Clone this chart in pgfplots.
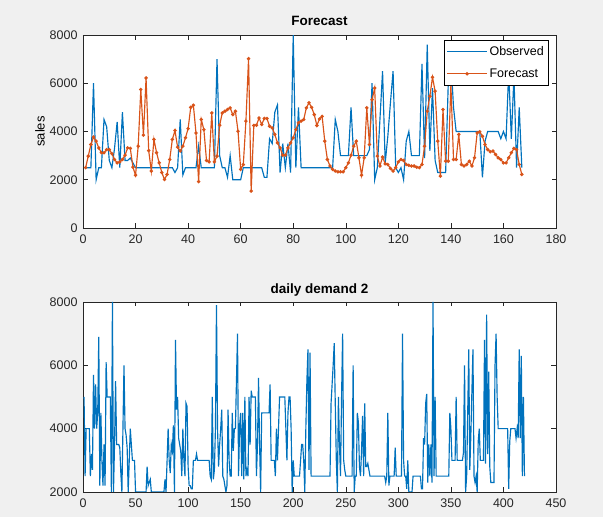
\documentclass[border=0pt]{standalone}
\usepackage{fontspec}
\setmainfont{Liberation Sans}
\usepackage{pgfplots}
\pgfplotsset{compat=1.18}
\usepackage{pgfplotstable}

\definecolor{mblue}{rgb}{0,0.447,0.741}
\definecolor{morange}{rgb}{0.85,0.325,0.098}
\definecolor{figbg}{RGB}{240,240,240}
\definecolor{axgray}{rgb}{0.15,0.15,0.15}

% test window: observed and forecast, t = 1..167
\pgfplotstableread{
t obs fc
1 2500 2500
2 2500 2980
3 2500 3460
4 6000 3770
5 2000 3600
6 2500 3320
7 2500 3120
8 4500 3120
9 4200 3250
10 2800 3250
11 2500 3080
12 3300 2840
13 4400 2700
14 2500 2740
15 4800 2840
16 2800 3020
17 2800 3320
18 2900 3300
19 2700 2520
20 2500 2190
21 2500 3390
22 2500 5740
23 2500 3850
24 2500 6220
25 2500 3210
26 2500 2360
27 2500 3670
28 2500 3120
29 2500 2700
30 2500 2300
31 2500 2010
32 2500 2220
33 2500 2840
34 2500 3670
35 2300 4040
36 2500 3350
37 4500 3190
38 2200 3390
39 2500 3740
40 2500 4120
41 2500 5000
42 2500 5090
43 2500 3940
44 3400 1920
45 2500 4500
46 2500 4080
47 2500 2800
48 2500 2740
49 2500 4770
50 2500 2740
51 7000 2980
52 3000 4260
53 2500 4770
54 2500 4840
55 2100 4910
56 3000 4980
57 2000 4700
58 2000 4840
59 2000 4010
60 2000 2430
61 2500 2630
62 2500 4430
63 2500 7020
64 2500 1530
65 2500 4250
66 2500 4260
67 2500 4560
68 2500 4290
69 2100 4540
70 2100 4540
71 3700 4220
72 3500 4150
73 4800 3880
74 5100 3530
75 2300 3320
76 3500 3020
77 2500 3020
78 3500 3320
79 2300 3530
80 8000 3740
81 2500 4080
82 5000 4360
83 2500 4430
84 2500 4500
85 2500 4980
86 2500 5190
87 2500 5000
88 2500 4700
89 2500 4250
90 2500 4520
91 2500 4630
92 2500 3600
93 2500 2840
94 2500 2570
95 2500 2430
96 4500 2360
97 4000 2330
98 3000 2330
99 3000 2330
100 3000 2500
101 3000 2700
102 5000 3020
103 3000 3390
104 3000 3600
105 3000 2910
106 3000 2190
107 3000 2910
108 3000 4980
109 3250 3460
110 6000 5320
111 2000 5800
112 2500 2980
113 4500 2570
114 6500 2940
115 2700 2660
116 3800 2630
117 5200 2470
118 6500 2360
119 2500 2500
120 2300 2740
121 2500 2840
122 2000 2800
123 3600 2630
124 4000 2600
125 3000 2570
126 3000 2570
127 3000 2520
128 3000 2500
129 6800 2630
130 2900 3390
131 7600 4840
132 3200 5460
133 5800 6250
134 2800 5670
135 2300 3600
136 2300 2150
137 2300 4910
138 2300 2770
139 6000 2770
140 7000 5940
141 5000 2840
142 4000 2840
143 4000 3880
144 4000 2630
145 4000 2570
146 4000 2630
147 4000 2770
148 4000 2570
149 4000 2910
150 4000 3940
151 4000 3990
152 2100 3800
153 3600 3460
154 4000 3250
155 4000 3160
156 4000 3190
157 4000 3050
158 4000 2910
159 3700 2840
160 4000 2700
161 3700 2700
162 6500 2910
163 3700 3120
164 6300 3300
165 2500 3250
166 5000 2630
167 2500 2220
}\fcast

% daily demand, days 1..254 (the rest is the observed column above, shifted by 253)
\pgfplotstableread{
t d
1 5000
2 2500
3 4000
4 4000
5 4000
6 4000
7 2500
8 3200
9 2700
10 5700
11 4000
12 5400
13 4000
14 4500
15 6900
16 2200
17 4500
18 3000
19 2200
20 3500
21 2200
22 6100
23 5000
24 5000
25 5000
26 5000
27 2000
28 8000
29 2000
30 3500
31 5500
32 3500
33 3500
34 3500
35 3400
36 2600
37 2000
38 4000
39 6000
40 4000
41 3800
42 3400
43 2000
44 3000
45 4000
46 3500
47 3000
48 3000
49 3000
50 2000
51 2000
52 2000
53 2000
54 2000
55 2000
56 2000
57 2000
58 2000
59 2000
60 2000
61 2800
62 2200
63 2300
64 2400
65 2000
66 2000
67 2000
68 2000
69 2000
70 2000
71 2000
72 2000
73 2000
74 2000
75 2000
76 2000
77 2000
78 2400
79 2000
80 3000
81 4000
82 3000
83 2600
84 3500
85 3300
86 4100
87 2000
88 6800
89 4600
90 5000
91 3700
92 3500
93 3300
94 2500
95 4000
96 3000
97 2500
98 4800
99 4700
100 2800
101 2200
102 2200
103 2100
104 2100
105 3000
106 3000
107 3000
108 3200
109 3000
110 3000
111 3000
112 3000
113 3000
114 3000
115 3000
116 3000
117 3000
118 3000
119 3000
120 3000
121 2500
122 2400
123 5000
124 2400
125 2700
126 4000
127 7900
128 4000
129 2800
130 3500
131 4000
132 4600
133 2500
134 2400
135 2200
136 2000
137 2200
138 4600
139 3000
140 2500
141 2500
142 4500
143 3300
144 4000
145 4000
146 5500
147 7000
148 2500
149 4100
150 4500
151 2500
152 4500
153 2400
154 5000
155 2500
156 2700
157 2500
158 5000
159 3500
160 5200
161 5000
162 5000
163 5000
164 5000
165 2500
166 3500
167 5600
168 3500
169 2000
170 4500
171 4500
172 4500
173 4500
174 4500
175 4500
176 4500
177 4500
178 5400
179 3000
180 3000
181 3000
182 3000
183 2500
184 4000
185 3000
186 4000
187 5000
188 5000
189 5000
190 5000
191 5000
192 5000
193 4000
194 3000
195 4500
196 5000
197 5000
198 4000
199 2000
200 3000
201 2500
202 2500
203 2500
204 2500
205 2500
206 2500
207 3000
208 3500
209 3500
210 3000
211 2000
212 4000
213 5500
214 6500
215 2700
216 6400
217 2500
218 2500
219 2500
220 2500
221 2500
222 2500
223 2500
224 2500
225 2500
226 2500
227 2500
228 2500
229 2500
230 2500
231 2500
232 2500
233 2500
234 2500
235 2500
236 4800
237 5400
238 6000
239 6700
240 4800
241 3000
242 2000
243 5000
244 3500
245 2500
246 5000
247 7000
248 3000
249 2700
250 2500
251 2500
252 2500
253 2500
254 2500
}\demand

\pgfplotsset{
  mat/.style={
    scale only axis, width=473pt, anchor=south west,
    axis background/.style={fill=white},
    axis line style={axgray, line width=0.5pt},
    tick style={axgray, line width=0.5pt},
    tick align=inside, major tick length=4.5pt,
    ticklabel style={font=\fontsize{12.5}{14}\selectfont, text=axgray},
    xticklabel style={yshift=-3pt},
    yticklabel style={xshift=-2pt},
    /pgf/number format/assume math mode=true,
    /pgf/number format/1000 sep={},
    scaled ticks=false,
    title style={font=\bfseries\fontsize{13.5}{15}\selectfont},
  },
  obsline/.style={mblue, line width=1.15pt, no marks},
}

\begin{document}
\begin{tikzpicture}[x=1pt,y=1pt]
\fill[figbg] (0,0) rectangle (603,517);

\begin{axis}[mat,
  at={(83pt,289pt)}, height=193pt,
  xmin=0, xmax=180, ymin=0, ymax=8000,
  xtick={0,20,...,180}, ytick={0,2000,4000,6000,8000},
  title={Forecast},
  ylabel={sales},
  ylabel style={font=\fontsize{13}{15}\selectfont, at={(axis description cs:-0.091,0.5)}, anchor=center},
  legend style={at={(0.983,0.974)}, anchor=north east, draw=black, fill=white,
    font=\fontsize{12.5}{14}\selectfont, inner xsep=2pt, inner ysep=4pt, row sep=8pt},
  legend cell align=left,
  legend image code/.code={\draw[mark repeat=2, mark phase=2, #1] plot coordinates {(0cm,0cm) (0.7cm,0cm) (1.4cm,0cm)};},
]
\addplot[obsline] table[x=t, y=obs] {\fcast};
\addplot[morange, line width=1.15pt, mark=*, mark size=1.1pt, mark options={solid, fill=morange}] table[x=t, y=fc] {\fcast};
\legend{Observed, Forecast}
\end{axis}

\begin{axis}[mat,
  at={(83pt,25pt)}, height=190pt,
  xmin=0, xmax=450, ymin=2000, ymax=8000,
  xtick={0,50,...,450}, ytick={2000,4000,6000,8000},
  title={daily demand 2}, title style={yshift=-4pt},
]
\addplot[obsline] table[x=t, y=d] {\demand};
\addplot[obsline] table[x expr=\thisrow{t}+253, y=obs] {\fcast};
\end{axis}
\end{tikzpicture}
\end{document}
